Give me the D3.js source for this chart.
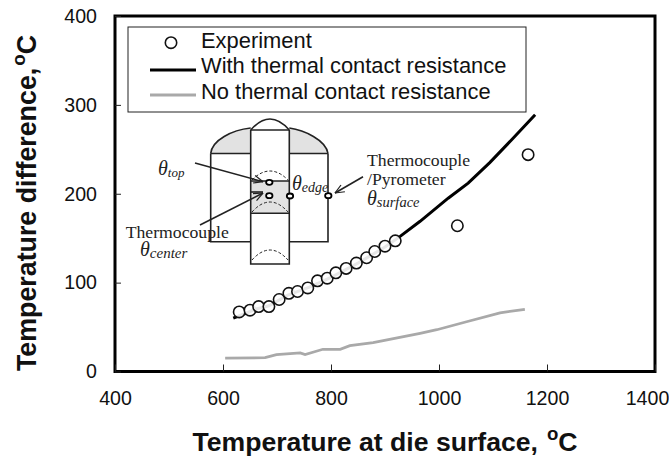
<!DOCTYPE html>
<html><head><meta charset="utf-8">
<script src="https://cdn.jsdelivr.net/npm/d3@7"></script>
<style>html,body{margin:0;background:#fff}svg{display:block}
.s{font-family:"Liberation Sans",Arial,sans-serif;fill:#111}
.r{font-family:"Liberation Serif",serif;fill:#222}</style>
</head><body><svg id="c" width="669" height="459"></svg>
<script>
const xTicks=[400,600,800,1000,1200,1400];
const yTicks=[0,100,200,300,400];
const expX=[630,650,666,685,704,722,738,757,775,793,809,828,847,866,881,900,919,1034,1165];
const expY=[67,69,73,73,81,88,90,94,102,105,111,116,122,128,135,141,147,164,244];
const withX=[619,640,660,685,720,760,800,850,900,928,965,1017,1054,1094,1135,1178];
const withY=[60,65,70,74,86,95,106,122,140,152,169,195,212,235,261,289];
const noX=[604,678,699,743,752,785,817,835,878,965,996,1051,1113,1159];
const noY=[15,15.5,19,21,19,25,25,29,32.5,43,47,56,66,70];
const legendLabels=["Experiment","With thermal contact resistance","No thermal contact resistance"];

const svg=d3.select("#c");
const x=d3.scaleLinear().domain([400,1400]).range([115,655]);
const y=d3.scaleLinear().domain([0,400]).range([371.5,16]);
const line=(xs,ys)=>d3.line().x(d=>x(d)).y((d,i)=>y(ys[i]))(xs);

// frame and axes
svg.append("rect").attr("x",115).attr("y",16).attr("width",540).attr("height",355.5)
  .attr("fill","none").attr("stroke","#000").attr("stroke-width",3);
const ax=svg.append("g").attr("transform","translate(0,371.5)")
  .call(d3.axisBottom(x).tickValues(xTicks).tickSize(-7).tickPadding(20).tickFormat(d3.format("d")));
const ay=svg.append("g").attr("transform","translate(115,0)")
  .call(d3.axisLeft(y).tickValues(yTicks).tickSize(-6).tickPadding(18).tickFormat(d3.format("d")));
[ax,ay].forEach(g=>{g.select(".domain").remove();
  g.selectAll("line").attr("stroke","#222").attr("stroke-width",1);
  g.selectAll("text").attr("class","s").style("font-size","19.6px");});
ax.selectAll("text").filter(d=>d===1400).attr("x",-8);

// schematic inset
const sch=svg.append("g").attr("fill","none").attr("stroke","#222").attr("stroke-width",1.6);
const greyPaths=["M210.7,153.5 C212,140 232,130 250.7,128 L250.7,153.5 Z",
  "M289.3,128 C304,130 326,140 328,153.5 L289.3,153.5 Z",
  "M250.7,181 L289.3,181 L289.3,213.3 L250.7,213.3 Z"];
greyPaths.forEach(p=>sch.append("path").attr("d",p).attr("fill","#e2e2e2").attr("stroke","none"));
const solidPaths=["M210.7,153.5 C212,140 232,130 250.7,128","M289.3,128 C304,130 326,140 328,153.5",
  "M250.7,130 Q270,108 289.3,130","M250.7,130 L289.3,130","M210.7,153.5 L250.7,153.5","M289.3,153.5 L328,153.5",
  "M210.7,153.5 L210.7,241.7 L250.7,241.7","M328,153.5 L328,241.7 L289.3,241.7",
  "M250.7,130 L250.7,264 L289.3,264 L289.3,130","M250.7,181 L289.3,181","M250.7,213.3 L289.3,213.3",
  "M250.7,192 L263,192"];
solidPaths.forEach(p=>sch.append("path").attr("d",p));
const dashPaths=["M252,180 Q270,162 288,180","M252,212 Q270,192 288,212","M252,260 Q270,240 288,260"];
dashPaths.forEach(p=>sch.append("path").attr("d",p).attr("stroke-width",1).attr("stroke-dasharray","3 2"));
const arrows=[[195,163,263,181.7],[200,225,263,193],[363,176.7,335,193]];
arrows.forEach(a=>{
  const ang=Math.atan2(a[3]-a[1],a[2]-a[0]),h=10;
  sch.append("line").attr("x1",a[0]).attr("y1",a[1]).attr("x2",a[2]).attr("y2",a[3]);
  [-0.4,0.4].forEach(t=>sch.append("line").attr("x1",a[2]).attr("y1",a[3])
    .attr("x2",a[2]-h*Math.cos(ang+t)).attr("y2",a[3]-h*Math.sin(ang+t)).attr("stroke-width",1.2));
});
const junctions=[[269.3,182.3],[269.3,195.7],[290,196],[328.3,195.7]];
junctions.forEach(c=>sch.append("ellipse").attr("cx",c[0]).attr("cy",c[1]).attr("rx",3.2).attr("ry",2.5)
  .attr("fill","#fff").attr("stroke","#000").attr("stroke-width",1.8));

function theta(px,py,sub,size,subSize){
  const t=svg.append("text").attr("class","r").attr("x",px).attr("y",py)
    .style("font-size",size+"px").style("font-style","italic").text("θ");
  t.append("tspan").attr("dy",2).style("font-size",subSize+"px").text(sub);
}
const serifLabels=[["Thermocouple",125.7,238],["Thermocouple",367,166],["/Pyrometer",367,185]];
serifLabels.forEach(l=>svg.append("text").attr("class","r").attr("x",l[1]).attr("y",l[2])
  .style("font-size","17.7px").text(l[0]));
theta(158,175,"top",20,13);theta(140,256,"center",20,15);theta(292,190,"edge",20,14);theta(367,205,"surface",20,14.5);

// series
svg.append("path").attr("d",line(noX,noY)).attr("fill","none").attr("stroke","#a9a9a9").attr("stroke-width",2.8);
svg.append("path").attr("d",line(withX,withY)).attr("fill","none").attr("stroke","#000").attr("stroke-width",3);
svg.selectAll("circle.e").data(expX).enter().append("circle").attr("class","e")
  .attr("cx",d=>x(d)).attr("cy",(d,i)=>y(expY[i])).attr("r",5.7)
  .attr("fill","#fff").attr("fill-opacity",0.9).attr("stroke","#111").attr("stroke-width",1.6);

// legend
svg.append("rect").attr("x",128).attr("y",27).attr("width",398).attr("height",85)
  .attr("fill","#fff").attr("stroke","#222").attr("stroke-width",1);
svg.append("circle").attr("cx",171).attr("cy",42.7).attr("r",5.7).attr("fill","#fff").attr("stroke","#111").attr("stroke-width",1.6);
svg.append("line").attr("x1",150).attr("x2",196).attr("y1",70).attr("y2",70).attr("stroke","#000").attr("stroke-width",3);
svg.append("line").attr("x1",150).attr("x2",196).attr("y1",95).attr("y2",95).attr("stroke","#a9a9a9").attr("stroke-width",3);
[48,73,99].forEach((b,i)=>svg.append("text").attr("class","s").attr("x",201).attr("y",b)
  .style("font-size","21.9px").text(legendLabels[i]));

// axis titles
function title(g,str,size,gap){
  const t=g.append("text").attr("class","s").attr("text-anchor","middle")
    .style("font-size",size+"px").style("font-weight","bold").text(str+",");
  t.append("tspan").attr("dx",gap).attr("dy",-11).style("font-size",(size*0.7)+"px").text("o");
  t.append("tspan").attr("dy",11).text("C");
}
title(svg.append("g").attr("transform","translate(385,451)"),"Temperature at die surface",26.6,9);
title(svg.append("g").attr("transform","translate(36,203) rotate(-90)"),"Temperature difference",26.8,2);
</script></body></html>
